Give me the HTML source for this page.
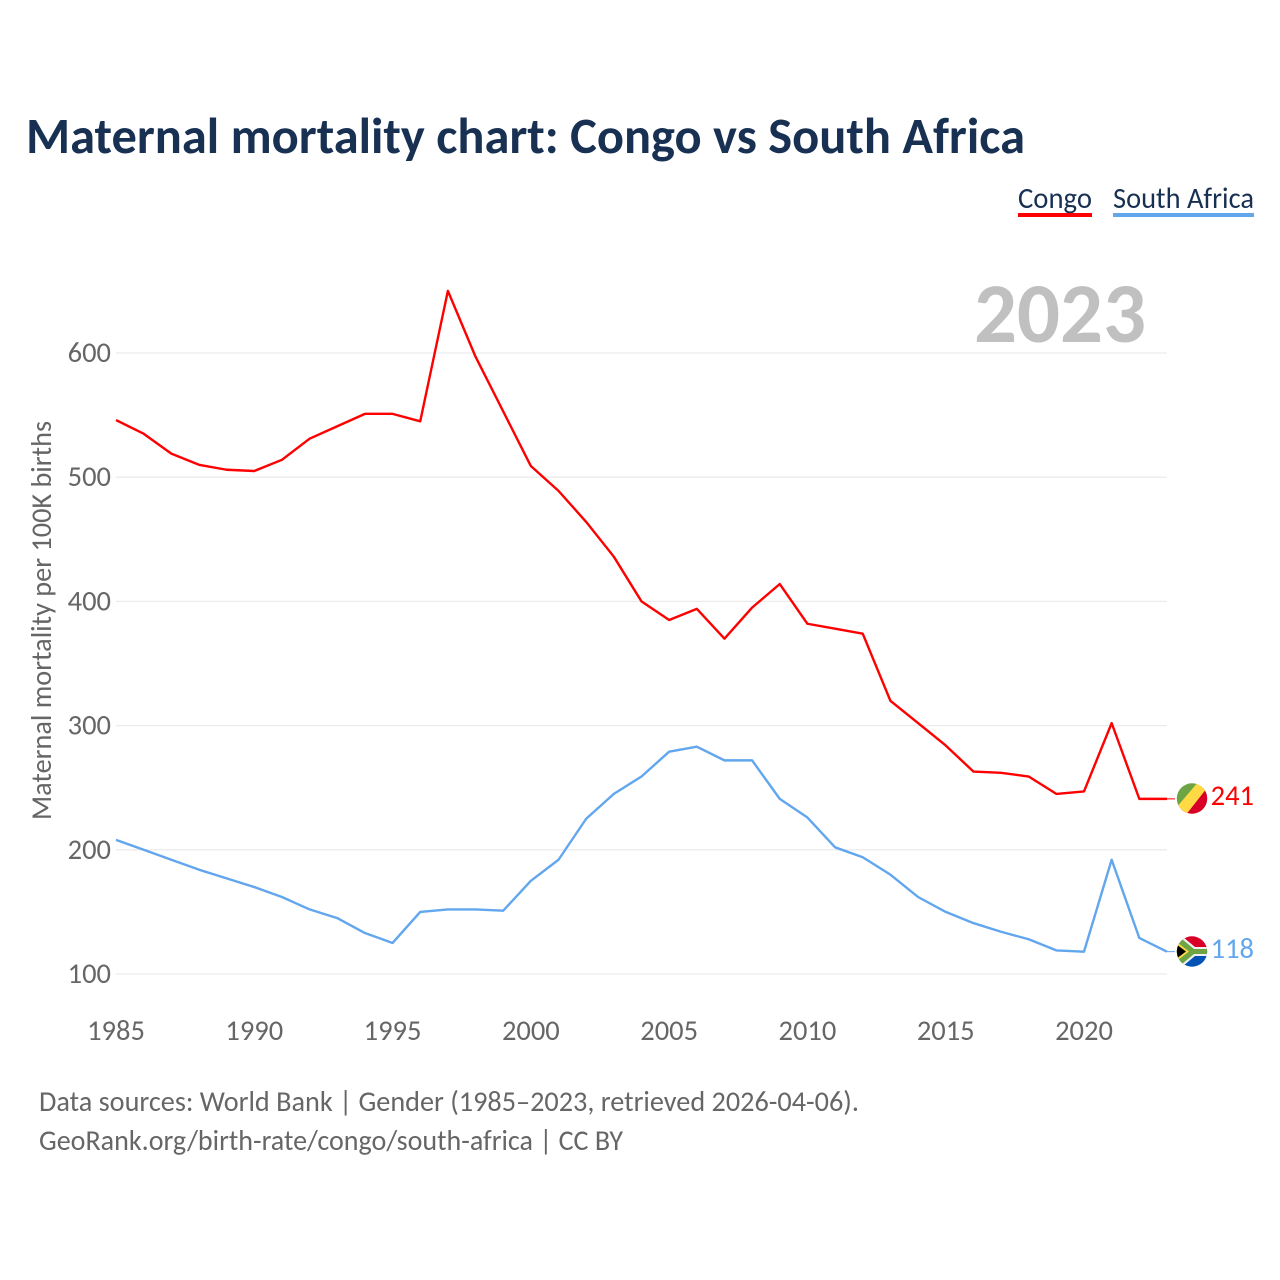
<!DOCTYPE html>
<html lang="en">
<head>
<meta charset="utf-8">
<title>Maternal mortality chart: Congo vs South Africa</title>
<style>
html,body{margin:0;padding:0;background:#fff;width:1280px;height:1280px;overflow:hidden}
svg{display:block}
text{font-family:"Carlito","Lato","Liberation Sans",sans-serif}
</style>
</head>
<body>
<svg id="chart" xmlns="http://www.w3.org/2000/svg" width="1280" height="1280" viewBox="0 0 1280 1280">
  <defs>
    <clipPath id="flag-clip-cg"><circle cx="1192" cy="798.5" r="15.2"/></clipPath>
    <clipPath id="flag-clip-za"><circle cx="1192" cy="951.5" r="15.2"/></clipPath>
  </defs>
  <text x="26" y="153" font-size="51" font-weight="700" fill="#183153" textLength="999" lengthAdjust="spacingAndGlyphs">Maternal mortality chart: Congo vs South Africa</text>

  <g>
    <text x="1018" y="208" font-size="30" fill="#183153" textLength="74" lengthAdjust="spacingAndGlyphs">Congo</text>
    <rect x="1018" y="213" width="74" height="4" fill="#ff0000"/>
  </g>
  <g>
    <text x="1113" y="208" font-size="30" fill="#183153" textLength="141" lengthAdjust="spacingAndGlyphs">South Africa</text>
    <rect x="1113" y="213" width="141" height="4" fill="#62a6ee"/>
  </g>

  <text x="974" y="342" font-size="85" font-weight="700" fill="#c0c0c0" textLength="172" lengthAdjust="spacingAndGlyphs">2023</text>

  <g id="grid"></g>
  <g id="yticks"></g>
  <g id="xticks"></g>

  <text transform="translate(51 820) rotate(-90)" font-size="29" fill="#666666" textLength="399" lengthAdjust="spacingAndGlyphs">Maternal mortality per 100K births</text>

  <g id="series"></g>

  <g clip-path="url(#flag-clip-cg)">
    <rect x="1176" y="783" width="32" height="32" fill="#6da544"/>
    <polygon points="1208,783 1208,815 1176,815" fill="#d80027"/>
    <polygon points="1199,781 1207,788 1185,816 1176,808" fill="#ffda44"/>
  </g>
  <g clip-path="url(#flag-clip-za)">
    <rect x="1176" y="936" width="32" height="15.5" fill="#d80027"/>
    <rect x="1176" y="951.5" width="32" height="16" fill="#0052b4"/>
    <polygon points="1176,937 1183,937 1195,947 1208,947 1208,956 1195,956 1183,966 1176,966" fill="#f0f0f0"/>
    <polygon points="1176,939 1182,939 1194,949 1208,949 1208,954 1194,954 1182,964 1176,964" fill="#6da544"/>
    <polygon points="1176,941.5 1189,951.5 1176,961.5" fill="#ffda44"/>
    <polygon points="1176,944 1186,951.5 1176,959" fill="#000000"/>
  </g>

  <text id="end-congo" x="1254" y="805" text-anchor="end" font-size="28.5" fill="#ff0000">241</text>
  <text id="end-za" x="1254" y="958" text-anchor="end" font-size="28.5" fill="#62a6ee">118</text>

  <text x="39" y="1111" font-size="29" fill="#666666" textLength="820" lengthAdjust="spacingAndGlyphs">Data sources: World Bank | Gender (1985–2023, retrieved 2026-04-06).</text>
  <text x="39" y="1150" font-size="29" fill="#666666" textLength="584" lengthAdjust="spacingAndGlyphs">GeoRank.org/birth-rate/congo/south-africa | CC BY</text>
</svg>
<script>
const years = [1985,1986,1987,1988,1989,1990,1991,1992,1993,1994,1995,1996,1997,1998,1999,2000,2001,2002,2003,2004,2005,2006,2007,2008,2009,2010,2011,2012,2013,2014,2015,2016,2017,2018,2019,2020,2021,2022,2023];
const congoValues = [546,535,519,510,506,505,514,531,541,551,551,545,650,597,553,509,489,464,436,400,385,394,370,395,414,382,378,374,320,302,284,263,262,259,245,247,302,241,241];
const southAfricaValues = [208,200,192,184,177,170,162,152,145,133,125,150,152,152,151,175,192,225,245,259,279,283,272,272,241,226,202,194,180,162,150,141,134,128,119,118,192,129,118];
const yTickLabels = [100,200,300,400,500,600];
const xTickLabels = [1985,1990,1995,2000,2005,2010,2015,2020];

const NS = 'http://www.w3.org/2000/svg';
function xScale(year){ return 116 + (year - 1985) * (1084 - 116) / 35; }
function yScale(v){ return 974 - (v - 100) * (974 - 353) / 500; }

const grid = document.getElementById('grid');
const yticks = document.getElementById('yticks');
const xticks = document.getElementById('xticks');
const series = document.getElementById('series');

yTickLabels.forEach(function(v){
  const line = document.createElementNS(NS, 'line');
  
  
  line.setAttribute('x1', 116);
  line.setAttribute('x2', 1167);
  line.setAttribute('y1', yScale(v));
  line.setAttribute('y2', yScale(v));
  line.setAttribute('stroke', '#ececec');
  line.setAttribute('stroke-width', 1.3);
  grid.appendChild(line);

  const t = document.createElementNS(NS, 'text');
  
  
  t.setAttribute('x', 111);
  t.setAttribute('y', yScale(v) + 9);
  t.setAttribute('text-anchor', 'end');
  t.setAttribute('font-size', 28.5);
  t.setAttribute('fill', '#666666');
  t.textContent = v;
  yticks.appendChild(t);
});

xTickLabels.forEach(function(y){
  const t = document.createElementNS(NS, 'text');
  
  
  t.setAttribute('x', xScale(y));
  t.setAttribute('y', 1040);
  t.setAttribute('text-anchor', 'middle');
  t.setAttribute('font-size', 28.5);
  t.setAttribute('fill', '#666666');
  t.textContent = y;
  xticks.appendChild(t);
});

function drawLine(values, color, name){
  const p = document.createElementNS(NS, 'polyline');
  
  
  p.setAttribute('fill', 'none');
  p.setAttribute('stroke', color);
  p.setAttribute('stroke-width', 2.4);
  p.setAttribute('stroke-linejoin', 'round');
  p.setAttribute('points', values.map(function(v, i){ return xScale(years[i]) + ',' + yScale(v); }).join(' '));
  series.appendChild(p);

  const last = values[values.length - 1];
  const lead = document.createElementNS(NS, 'line');
  
  
  lead.setAttribute('x1', xScale(years[years.length - 1]));
  lead.setAttribute('x2', 1175);
  lead.setAttribute('y1', yScale(last));
  lead.setAttribute('y2', yScale(last));
  lead.setAttribute('stroke', color);
  lead.setAttribute('stroke-width', 1);
  series.appendChild(lead);
}
drawLine(congoValues, '#ff0000', 'line-congo');
drawLine(southAfricaValues, '#62a6ee', 'line-south-africa');

document.getElementById('end-congo').textContent = congoValues[congoValues.length - 1];
document.getElementById('end-za').textContent = southAfricaValues[southAfricaValues.length - 1];
</script>
</body>
</html>
